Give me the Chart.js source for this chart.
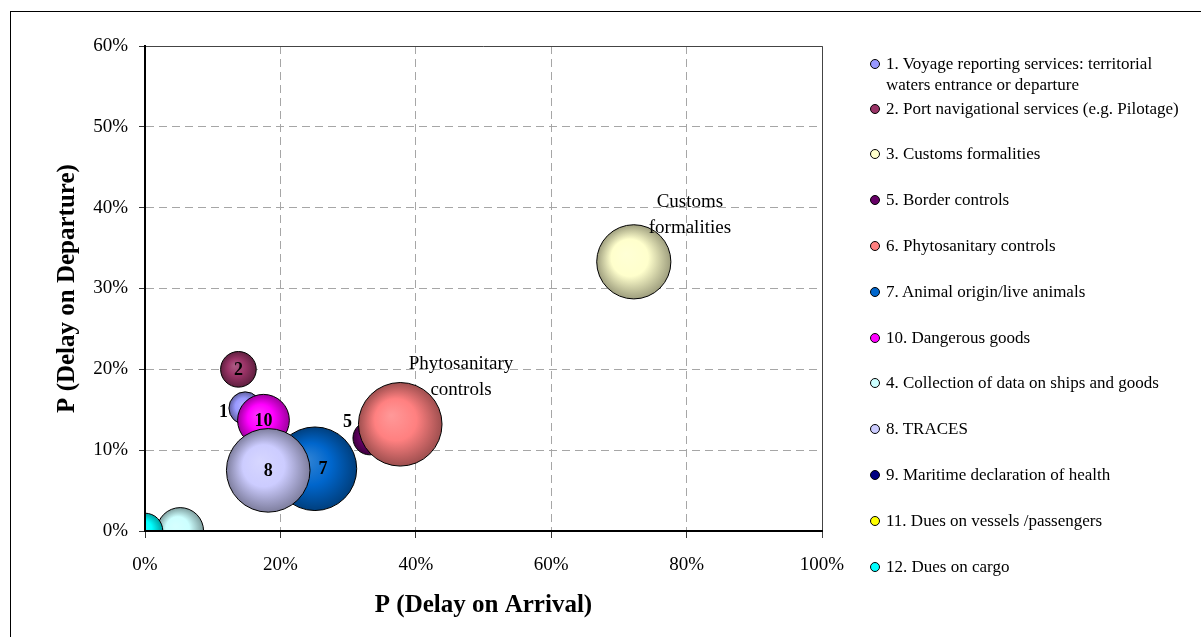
<!DOCTYPE html>
<html>
<head>
<meta charset="utf-8">
<script src="https://cdn.jsdelivr.net/npm/chart.js@4.4.1/dist/chart.umd.min.js"></script>
<style>
  html, body { margin: 0; padding: 0; background: #fff; overflow: hidden; }
  #wrap { position: relative; width: 1201px; height: 637px; }
  #frame { position: absolute; left: 10px; top: 11px; width: 1300px; height: 700px; border: 1px solid #000; pointer-events: none; }
  #chart { position: absolute; left: 0; top: 0; }
  .item { position: absolute; left: 886px; font-family: "Liberation Serif", serif; font-size: 17px; line-height: 21px; color: #000; white-space: pre; }
  .dot { position: absolute; left: -16px; top: 6px; width: 8px; height: 8px; border: 1px solid #000; border-radius: 50%; }
</style>
</head>
<body>
<div id="wrap">
  <canvas id="chart" width="1201" height="637"></canvas>
  <div id="legend"></div>
  <div id="frame"></div>
</div>
<script>
// Series, in drawing / legend order
const seriesNames = [
  '1. Voyage reporting services: territorial\nwaters entrance or departure',
  '2. Port navigational services (e.g. Pilotage)',
  '3. Customs formalities',
  '5. Border controls',
  '6. Phytosanitary controls',
  '7. Animal origin/live animals',
  '10. Dangerous goods',
  '4. Collection of data on ships and goods',
  '8. TRACES',
  '9. Maritime declaration of health',
  '11. Dues on vessels /passengers',
  '12. Dues on cargo'
];
const bubbleTags = ['1', '2', '', '5', '', '7', '10', '', '8', '', '', ''];
const calloutText = [null, null, ['Customs', 'formalities'], null, ['Phytosanitary', 'controls'], null, null, null, null, null, null, null];

// P(delay on arrival) and P(delay on departure), in percent
const delayOnArrival   = [14.8, 13.8, 72.2, 33.2, 37.7, 25.1, 17.5, 5.2, 18.2, null, null, 0];
const delayOnDeparture = [15.2, 20.0, 33.3, 11.5, 13.2, 7.7, 13.7, 0, 7.5, null, null, 0];
// relative bubble size (area)
const bubbleSize       = [15, 18, 78, 16, 99, 99, 38, 31, 99, null, null, 18];

const seriesColors = ['#9999ff', '#993366', '#ffffcc', '#660066', '#ff8080', '#0066cc',
                      '#ff00ff', '#ccffff', '#ccccff', '#000080', '#ffff00', '#00ffff'];

const xTickStep = 20, xMax = 100, yTickStep = 10, yMax = 60;
const serif = 'Liberation Serif';

// tags drawn beside the bubble, or nudged off its centre
const tagBeside = { '1': { dy: 4 }, '5': { dy: -16 } };
const tagNudge = { '7': { dx: 8 } };

function shade(hex, f) {
  const n = parseInt(hex.slice(1), 16);
  const c = [n >> 16, (n >> 8) & 255, n & 255];
  const t = f < 0 ? 0 : 255, p = Math.abs(f);
  return 'rgb(' + c.map(v => Math.round(v + (t - v) * p)).join(',') + ')';
}

// spherical shading for each bubble
function sphereFill(ctx) {
  const base = seriesColors[ctx.datasetIndex];
  if (ctx.type !== 'data' || !ctx.raw) return base;
  const chart = ctx.chart;
  const xs = chart.scales.x, ys = chart.scales.y;
  if (!xs || !ys) return base;
  const cx = xs.getPixelForValue(ctx.raw.x);
  const cy = ys.getPixelForValue(ctx.raw.y);
  const r = Math.max(ctx.raw.r, 1);
  if (!isFinite(cx) || !isFinite(cy)) return base;
  const g = chart.ctx.createRadialGradient(cx - r * 0.22, cy - r * 0.22, 0, cx, cy, r);
  g.addColorStop(0, shade(base, 0.2));
  g.addColorStop(0.5, shade(base, 0.0));
  g.addColorStop(1, shade(base, -0.38));
  return g;
}

const n = seriesNames.length;
const datasets = seriesNames.map((name, i) => ({
  label: name.replace('\n', ' '),
  data: delayOnArrival[i] === null ? [] :
    [{ x: delayOnArrival[i], y: delayOnDeparture[i], r: Math.sqrt(bubbleSize[i]) * 4.2 }],
  backgroundColor: sphereFill,
  borderColor: '#000',
  borderWidth: 1,
  clip: 0,
  order: n - i            // later series are painted over earlier ones
}));

// solid frame on the top and right of the plot area
const plotFrame = {
  id: 'plotFrame',
  beforeDatasetsDraw(chart) {
    const { ctx, chartArea: a } = chart;
    ctx.save();
    ctx.strokeStyle = '#444';
    ctx.lineWidth = 1;
    ctx.beginPath();
    ctx.moveTo(a.left, a.top + 0.5);
    ctx.lineTo(a.right + 0.5, a.top + 0.5);
    ctx.lineTo(a.right + 0.5, a.bottom + 7);
    ctx.stroke();
    ctx.restore();
  }
};

// bubble numbers and callout names
const bubbleLabels = {
  id: 'bubbleLabels',
  afterDatasetsDraw(chart) {
    const ctx = chart.ctx;
    ctx.save();
    ctx.fillStyle = '#000';
    chart.data.datasets.forEach((ds, i) => {
      const el = chart.getDatasetMeta(i).data[0];
      if (!el) return;
      const r = el.options.radius;
      const tag = bubbleTags[i];
      if (tag) {
        ctx.font = 'bold 18px "' + serif + '"';
        ctx.textBaseline = 'middle';
        const side = tagBeside[tag];
        if (side) {
          ctx.textAlign = 'right';
          ctx.fillText(tag, el.x - r - 1, el.y + side.dy);
        } else {
          const nudge = tagNudge[tag] || { dx: 0 };
          ctx.textAlign = 'center';
          ctx.fillText(tag, el.x + nudge.dx, el.y + 1);
        }
      }
      const lines = calloutText[i];
      if (lines) {
        ctx.font = '19px "' + serif + '"';
        ctx.textAlign = 'center';
        ctx.textBaseline = 'middle';
        const x = el.x + r + 19;
        const y2 = el.y - 34;
        ctx.fillText(lines[0], x, y2 - 26);
        ctx.fillText(lines[1], x, y2);
      }
    });
    ctx.restore();
  }
};

const tickFont = { family: serif, size: 19 };
const titleFont = { family: serif, size: 25, weight: 'bold' };

new Chart(document.getElementById('chart'), {
  type: 'bubble',
  data: { datasets },
  options: {
    responsive: false,
    animation: false,
    events: [],
    layout: { padding: { top: 46, right: 379, bottom: 0, left: 0 } },
    plugins: { legend: { display: false }, tooltip: { enabled: false } },
    scales: {
      x: {
        type: 'linear', min: 0, max: xMax,
        ticks: { stepSize: xTickStep, callback: v => v + '%', font: tickFont, color: '#000', padding: 16, maxRotation: 0 },
        grid: { color: '#a6a6a6', lineWidth: 1, tickColor: '#333', tickLength: 7 },
        border: { color: '#000', width: 2, dash: [8, 5], z: 1 },
        title: { display: true, text: 'P (Delay on Arrival)', font: titleFont, color: '#000', padding: { top: 0, bottom: 16 } },
        afterFit(scale) { scale.height = 106; }
      },
      y: {
        type: 'linear', min: 0, max: yMax,
        ticks: { stepSize: yTickStep, callback: v => v + '%', font: tickFont, color: '#000', padding: 11 },
        grid: { color: '#a6a6a6', lineWidth: 1, tickColor: '#333', tickLength: 6 },
        border: { color: '#000', width: 2, dash: [8, 5], z: 1 },
        title: { display: true, text: 'P (Delay on Departure)', font: titleFont, color: '#000', padding: { top: 53, bottom: 0 } },
        afterFit(scale) { scale.width = 145; }
      }
    }
  },
  plugins: [plotFrame, bubbleLabels]
});

// legend on the right
const legend = document.getElementById('legend');
seriesNames.forEach((name, i) => {
  const centre = i === 0 ? 63 : 108 + (i - 1) * 45.8;
  const item = document.createElement('div');
  item.className = 'item';
  item.style.top = (centre - 10.5) + 'px';
  const dot = document.createElement('span');
  dot.className = 'dot';
  dot.style.background = seriesColors[i];
  item.appendChild(dot);
  item.appendChild(document.createTextNode(name));
  legend.appendChild(item);
});
</script>
</body>
</html>
